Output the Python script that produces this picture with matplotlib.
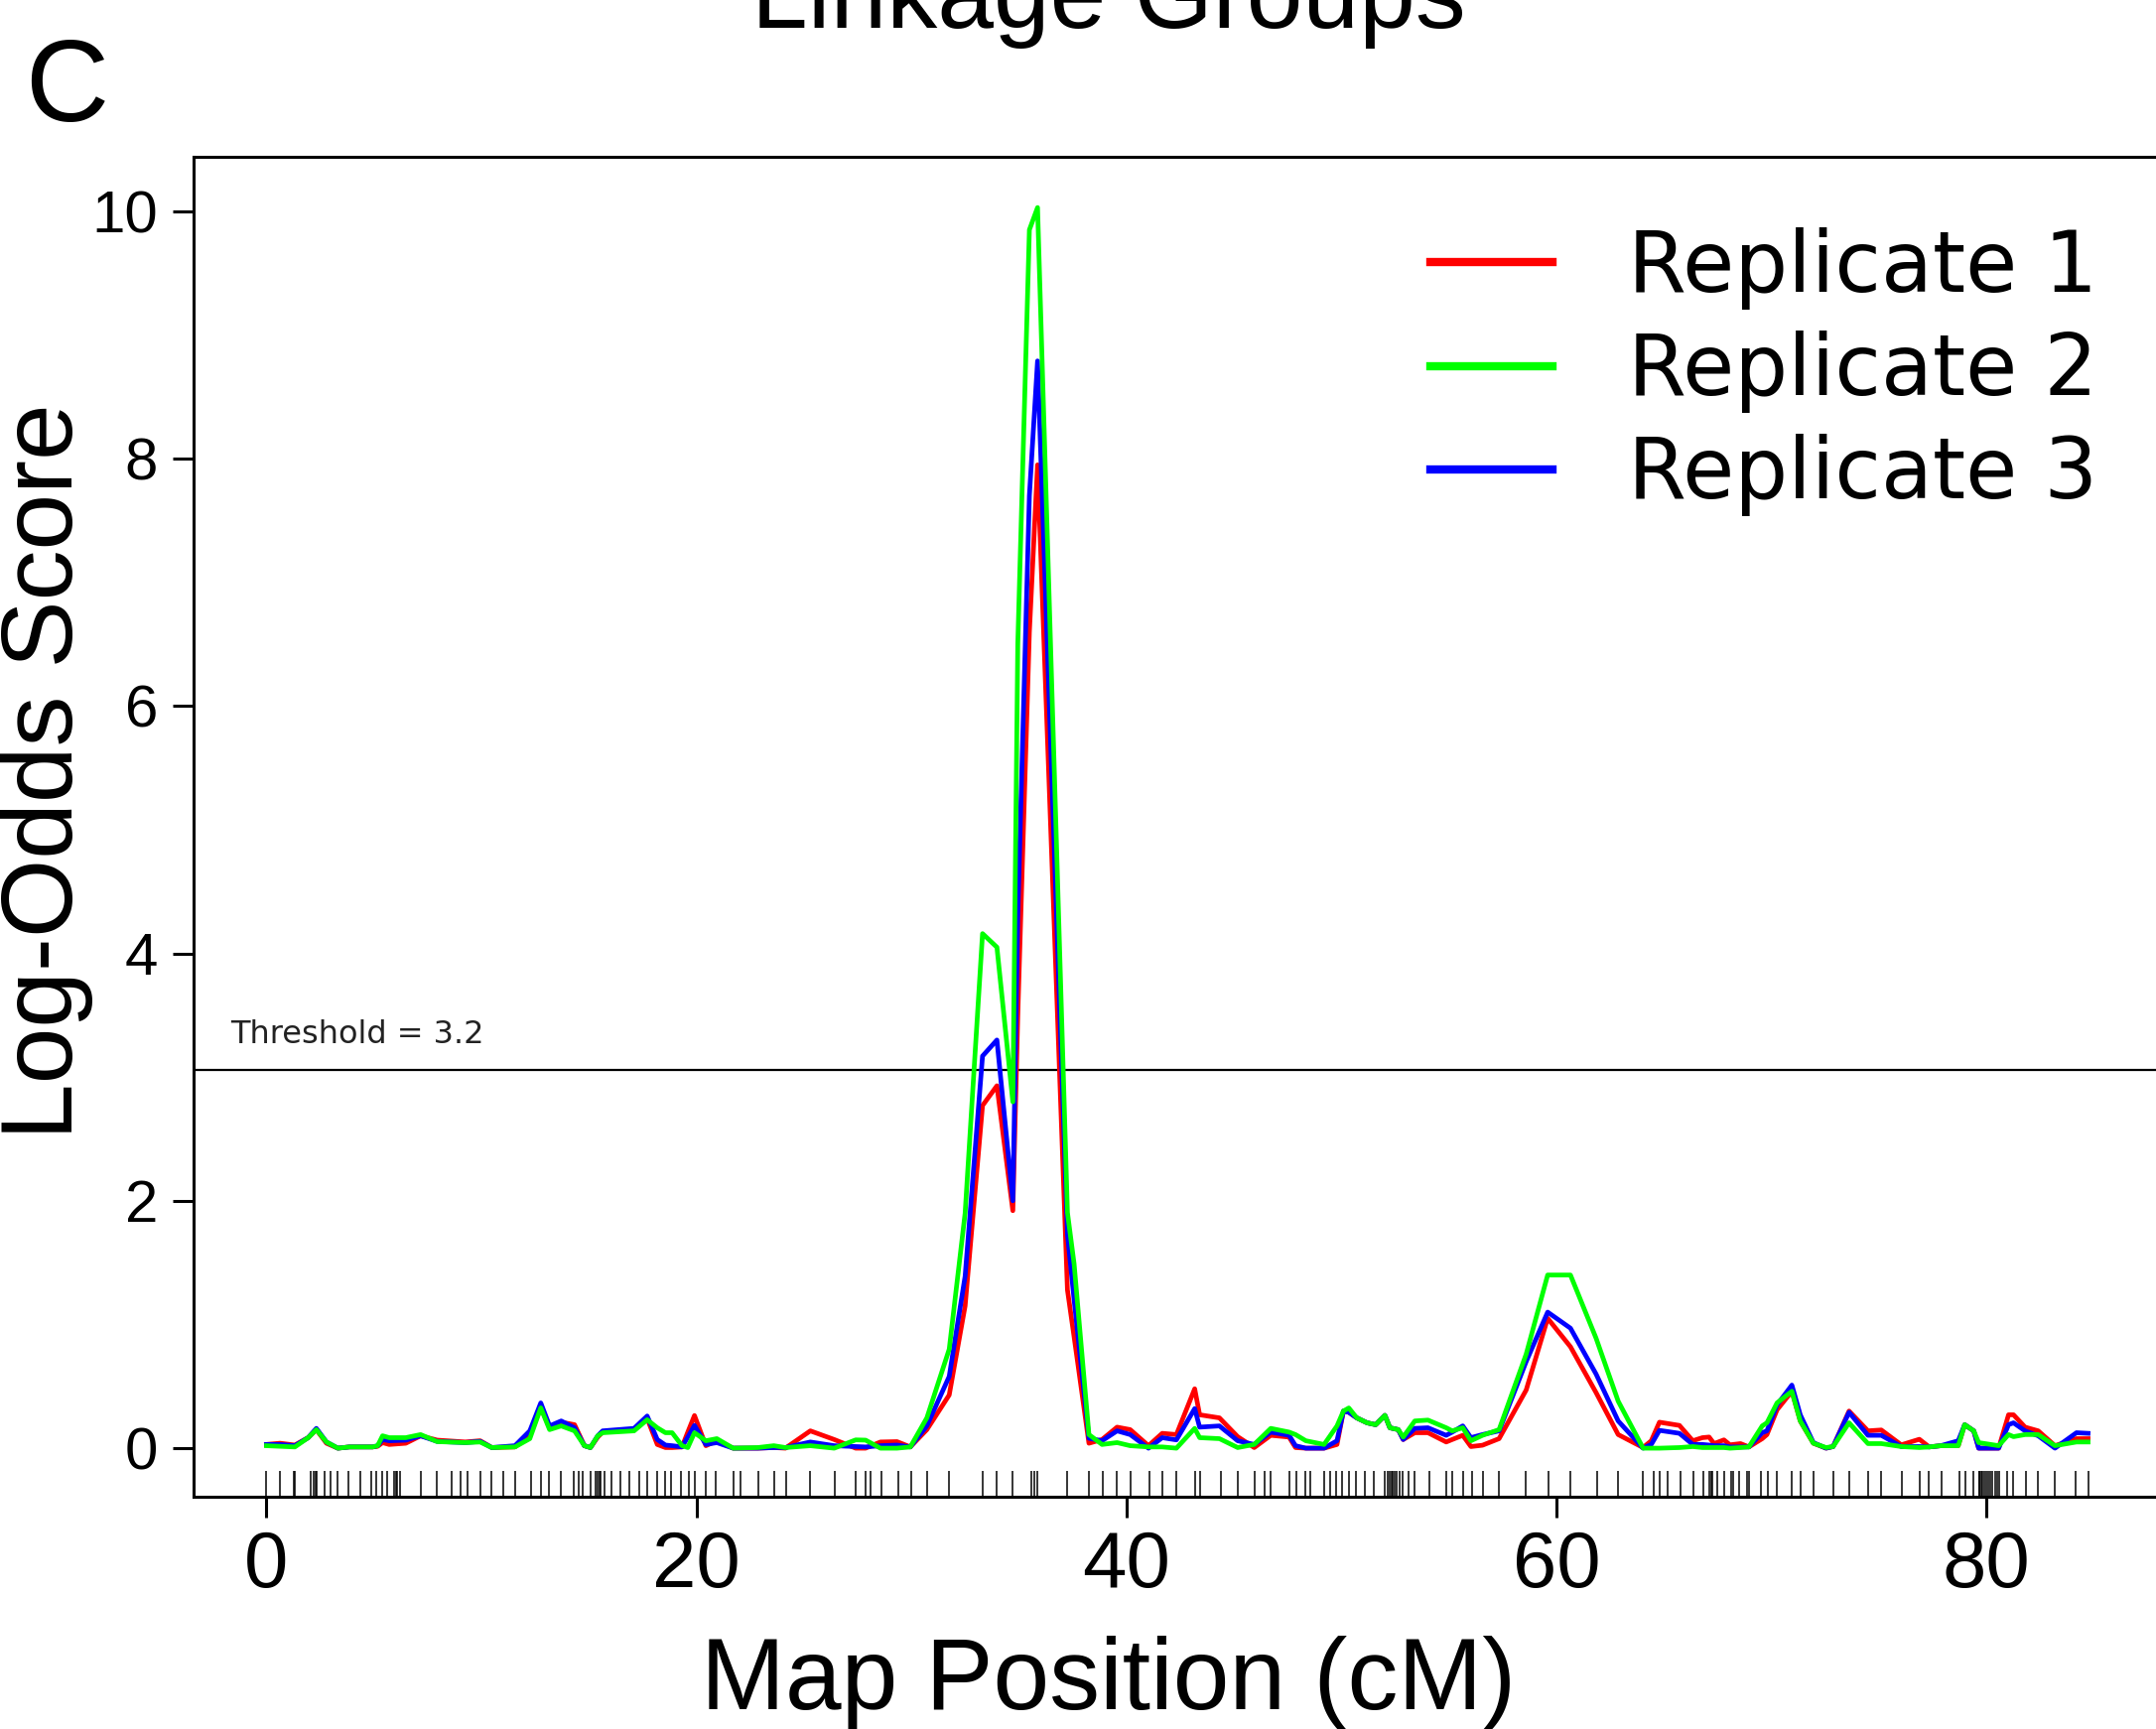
import matplotlib
matplotlib.use("Agg")
import matplotlib.pyplot as plt

# ==========================================================
# DADOS
# ==========================================================

pos = [0.0, 0.63, 1.32, 1.94, 2.32, 2.79, 3.32, 3.86, 4.94, 5.17, 5.40, 5.71,
       6.48, 7.17, 7.94, 9.25, 9.94, 10.48, 11.56, 12.25, 12.76, 13.17, 13.71,
       14.33, 14.79, 15.07, 15.41, 15.64, 17.1, 17.71, 18.18, 18.56, 18.87,
       19.33, 19.6, 19.91, 20.44, 20.95, 21.71, 22.86, 23.6, 24.14, 25.3, 26.41,
       27.41, 27.87, 28.56, 29.33, 29.95, 30.72, 31.76, 32.5, 33.31, 33.98,
       34.72, 34.95, 35.49, 35.87, 37.26, 37.57, 38.26, 38.87, 39.57, 40.18,
       41.03, 41.67, 42.33, 43.18, 43.41, 44.33, 45.18, 45.95, 46.72, 47.57,
       47.87, 48.35, 49.2, 49.8, 50.1, 50.35, 50.72, 51.2, 51.6, 52.03, 52.26,
       52.65, 52.88, 53.42, 54.03, 54.88, 55.16, 55.65, 56.03, 56.57, 57.34,
       58.6, 59.6, 60.66, 61.85, 62.88, 64.04, 64.42, 64.8, 65.73, 66.35, 66.8,
       67.11, 67.34, 67.8, 68.08, 68.57, 68.96, 69.58, 69.8, 70.27, 70.96,
       71.35, 71.96, 72.55, 72.88, 73.62, 74.5, 75.12, 76.05, 76.89, 77.35,
       77.89, 78.7, 79.0, 79.42, 79.65, 80.58, 81.04, 81.27, 81.81, 82.42,
       83.2, 84.2, 84.74]

rep1 = [0.03, 0.04, 0.025, 0.085, 0.15, 0.04, 0.0, 0.01, 0.01, 0.015, 0.045, 0.03,
        0.04, 0.10, 0.065, 0.05, 0.06, 0.005, 0.01, 0.10, 0.33, 0.165, 0.21,
        0.19, 0.02, 0.005, 0.09, 0.13, 0.15, 0.24, 0.03, 0.005, 0.005,
        0.01, 0.13, 0.264, 0.02, 0.06, 0.0, 0.0, 0.005, 0.0, 0.14, 0.07,
        0.0, 0.0, 0.05, 0.053, 0.01, 0.15, 0.43, 1.15, 2.77, 2.93,
        1.92, 3.5, 6.6, 7.95, 1.28, 0.9, 0.04, 0.07, 0.17, 0.15,
        0.02, 0.12, 0.11, 0.48, 0.27, 0.245, 0.093, 0.005, 0.104, 0.09,
        0.005, 0.0, 0.0, 0.03, 0.3, 0.29, 0.245, 0.205, 0.19, 0.265, 0.165,
        0.15, 0.07, 0.125, 0.125, 0.05, 0.07, 0.104, 0.013, 0.024, 0.077,
        0.47, 1.05, 0.82, 0.45, 0.11, 0.005, 0.06, 0.21, 0.184, 0.06, 0.085,
        0.09, 0.037, 0.067, 0.027, 0.037, 0.01, 0.077, 0.11, 0.31, 0.46,
        0.22, 0.04, 0.0, 0.013, 0.30, 0.14, 0.147, 0.027, 0.072, 0.01,
        0.02, 0.02, 0.19, 0.14, 0.0, 0.0, 0.27, 0.27, 0.17, 0.14,
        0.02, 0.077, 0.077]

rep2 = [0.02, 0.015, 0.01, 0.085, 0.15, 0.05, 0.0, 0.01, 0.01, 0.02, 0.10, 0.085,
        0.085, 0.11, 0.053, 0.045, 0.05, 0.005, 0.01, 0.077, 0.326, 0.15, 0.18,
        0.14, 0.02, 0.005, 0.10, 0.125, 0.14, 0.23, 0.165, 0.125, 0.125,
        0.02, 0.005, 0.125, 0.06, 0.077, 0.0, 0.005, 0.02, 0.005, 0.02, 0.0,
        0.067, 0.065, 0.0, 0.0, 0.01, 0.245, 0.8, 1.9, 4.16, 4.05,
        2.80, 6.5, 9.85, 10.03, 1.906, 1.49, 0.11, 0.03, 0.045, 0.02,
        0.01, 0.01, 0.0, 0.16, 0.085, 0.077, 0.005, 0.03, 0.16, 0.13,
        0.11, 0.06, 0.03, 0.18, 0.3, 0.325, 0.245, 0.205, 0.19, 0.265, 0.165,
        0.15, 0.09, 0.22, 0.227, 0.165, 0.14, 0.165, 0.06, 0.104, 0.15,
        0.76, 1.40, 1.40, 0.89, 0.38, 0.0, 0.0, 0.0, 0.005, 0.013, 0.005,
        0.005, 0.005, 0.005, 0.0, 0.005, 0.01, 0.18, 0.205, 0.366, 0.46,
        0.22, 0.04, 0.005, 0.013, 0.205, 0.037, 0.037, 0.013, 0.005, 0.01,
        0.02, 0.02, 0.19, 0.14, 0.045, 0.02, 0.11, 0.093, 0.11, 0.11,
        0.02, 0.05, 0.05]

rep3 = [0.03, 0.03, 0.02, 0.085, 0.16, 0.05, 0.0, 0.01, 0.01, 0.02, 0.07, 0.06,
        0.065, 0.10, 0.055, 0.045, 0.055, 0.005, 0.02, 0.14, 0.366, 0.18, 0.22,
        0.165, 0.02, 0.005, 0.10, 0.14, 0.16, 0.26, 0.07, 0.025, 0.02,
        0.01, 0.09, 0.184, 0.03, 0.045, 0.0, 0.0, 0.005, 0.005, 0.05, 0.02,
        0.013, 0.01, 0.02, 0.025, 0.01, 0.18, 0.58, 1.39, 3.17, 3.30,
        2.0, 4.3, 7.7, 8.79, 1.73, 1.2, 0.08, 0.06, 0.14, 0.11,
        0.0, 0.085, 0.067, 0.32, 0.17, 0.18, 0.06, 0.03, 0.13, 0.104,
        0.02, 0.0, 0.0, 0.06, 0.3, 0.29, 0.245, 0.205, 0.19, 0.265, 0.165,
        0.15, 0.07, 0.16, 0.165, 0.104, 0.13, 0.18, 0.085, 0.11, 0.14,
        0.7, 1.10, 0.97, 0.6, 0.22, 0.0, 0.03, 0.144, 0.12, 0.03, 0.03,
        0.025, 0.02, 0.02, 0.01, 0.01, 0.01, 0.125, 0.14, 0.35, 0.51,
        0.27, 0.045, 0.0, 0.013, 0.29, 0.104, 0.104, 0.013, 0.013, 0.01,
        0.02, 0.06, 0.19, 0.14, 0.0, 0.0, 0.19, 0.205, 0.14, 0.1,
        0.0, 0.125, 0.12]

# posicoes dos marcadores (rug)
markers = [0.0, 0.63, 1.28, 1.32, 2.05, 2.2, 2.29, 2.35, 2.71, 2.97, 3.29, 3.83,
           4.36, 4.86, 5.12, 5.40, 5.63, 5.94, 6.02, 6.09, 6.22, 7.17, 7.94, 8.6,
           9.02, 9.37, 9.94, 10.45, 11.02, 11.56, 12.3, 12.76, 13.14, 13.71, 14.3,
           14.51, 14.71, 15.1, 15.33, 15.4, 15.48, 15.56, 15.71, 16.07, 16.48,
           16.87, 17.33, 17.71, 18.17, 18.56, 18.84, 19.3, 19.64, 19.91, 20.44,
           20.9, 21.71, 22.07, 22.87, 23.61, 24.18, 25.3, 26.44, 27.41, 27.87,
           28.1, 28.59, 29.41, 29.98, 30.75, 31.76, 33.3, 33.98, 34.72, 35.56,
           35.72, 35.87, 37.26, 38.26, 38.9, 39.56, 40.18, 41.06, 41.67, 42.33,
           43.18, 43.41, 44.38, 45.18, 45.95, 46.41, 46.72, 47.57, 47.92, 48.34,
           48.57, 49.19, 49.47, 49.77, 50.03, 50.34, 50.69, 51.11, 51.52, 52.03,
           52.14, 52.23, 52.34, 52.41, 52.49, 52.57, 52.69, 52.85, 53.11, 53.42,
           54.09, 54.88, 55.16, 55.68, 56.08, 56.57, 57.34, 58.6, 59.62, 60.65,
           61.91, 62.88, 64.04, 64.54, 64.8, 65.19, 65.8, 66.39, 66.85, 67.11,
           67.19, 67.27, 67.5, 67.81, 68.15, 68.24, 68.5, 68.89, 68.96, 69.53,
           69.84, 70.24, 70.96, 71.36, 71.95, 72.9, 73.62, 74.5, 75.11, 76.07,
           76.92, 77.32, 77.92, 78.76, 79.04, 79.42, 79.66, 79.7, 79.76, 79.84,
           79.92, 80.0, 80.09, 80.2, 80.3, 80.4, 80.5, 80.6, 80.96, 81.24, 81.84,
           82.4, 83.17, 84.17, 84.74]

threshold = 3.06
labels = ["Replicate 1", "Replicate 2", "Replicate 3"]
cores = ["#ff0000", "#00ff00", "#0000ff"]

# ==========================================================
# FIGURA
# ==========================================================

plt.rcParams["font.family"] = ["Liberation Sans", "DejaVu Sans"]

fig = plt.figure(figsize=(10.86, 8.71), dpi=200)
ax = fig.add_axes([0.0898, 0.1343, 0.9125, 0.7750])

# ordem de desenho: vermelho, azul, verde por cima
l1, = ax.plot(pos, rep1, color=cores[0], lw=1.7, zorder=3)
l3, = ax.plot(pos, rep3, color=cores[2], lw=1.7, zorder=4)
l2, = ax.plot(pos, rep2, color=cores[1], lw=1.7, zorder=5)

ax.vlines(markers, 0, 0.0193, transform=ax.get_xaxis_transform(),
          color="black", lw=0.55)

ax.axhline(threshold, color="black", lw=0.8)
ax.text(-1.7, 3.34, "Threshold = 3.2", fontsize=11.5, family="DejaVu Sans",
        va="center", ha="left", color="#222222")

ax.set_xlim(-3.39, 88.13)
ax.set_ylim(-0.393, 10.44)
ax.set_xticks([0, 20, 40, 60, 80])
ax.set_yticks([0, 2, 4, 6, 8, 10])
ax.tick_params(axis="x", labelsize=28.7, length=7.5, width=1.1, pad=4.5)
ax.tick_params(axis="y", labelsize=21.6, length=7.5, width=1.1, pad=5.4)
for s in ["left", "bottom", "top"]:
    ax.spines[s].set_linewidth(1.1)
ax.spines["right"].set_visible(False)

leg = ax.legend([l1, l2, l3], labels, loc="upper left",
                bbox_to_anchor=(0.6634, 0.8685), bbox_transform=fig.transFigure,
                frameon=False, borderpad=0, borderaxespad=0,
                prop={"family": "DejaVu Sans", "size": 30.5},
                handlelength=1.45, handletextpad=0.9, labelspacing=0.25)
for h in leg.get_lines():
    h.set_linewidth(3.0)

# textos da figura
fig.text(0.514, 0.984, "Linkage Groups", fontsize=36.7, ha="center", va="baseline")
fig.text(0.514, 0.0115, "Map Position (cM)", fontsize=36.7, ha="center", va="baseline")
fig.text(0.0212, 0.554, "Log-Odds Score", fontsize=36.7, rotation=90,
         ha="center", va="center")
fig.text(0.0115, 0.930, "C", fontsize=42, ha="left", va="baseline")

fig.savefig("out.png", dpi=200)
